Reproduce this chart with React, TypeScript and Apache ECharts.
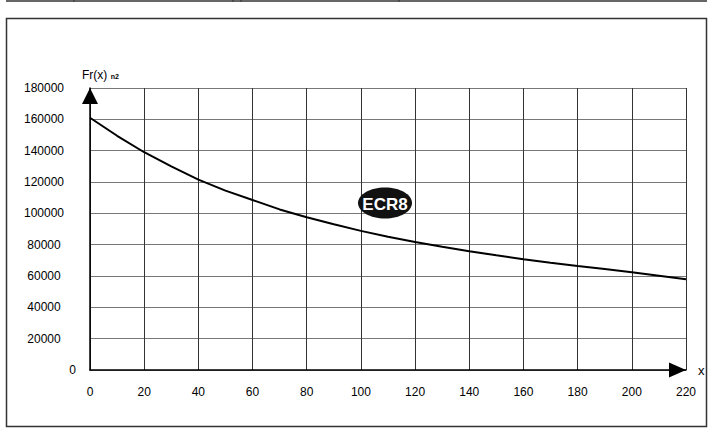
import React, { useEffect, useRef } from "react";
import * as echarts from "echarts";

const xValues = [0, 10, 20, 30, 40, 50, 60, 70, 80, 90, 100, 110, 120, 130, 140, 150, 160, 170, 180, 190, 200, 210, 220];
const frValues = [161000, 149500, 139000, 130000, 121500, 114500, 108500, 102500, 97500, 93000, 88800, 85000, 81700, 78700, 75800, 73200, 70700, 68500, 66400, 64400, 62400, 60200, 58000];
const xTicks = { min: 0, max: 220, interval: 20 };
const yTicks = { min: 0, max: 180000, interval: 20000 };
const yName = "Fr(x)";
const ySub = "n2";
const xName = "x";
const badge = "ECR8";

const FONT = "'Liberation Sans', Arial, sans-serif";

export default function App() {
  const ref = useRef<HTMLDivElement>(null);
  useEffect(() => {
    if (!ref.current) return;
    const chart = echarts.init(ref.current, null, { renderer: "svg" });
    const data = xValues.map((x, i) => [x, frValues[i]]);
    chart.setOption({
      animation: false,
      backgroundColor: "#fff",
      grid: { left: 90, right: 25, top: 88, bottom: 58 },
      xAxis: {
        type: "value",
        min: xTicks.min,
        max: xTicks.max,
        interval: xTicks.interval,
        name: xName,
        nameLocation: "end",
        nameGap: 12,
        nameTextStyle: { color: "#000", fontFamily: FONT, fontSize: 13, padding: [0, 0, 10, 0] },
        axisLine: {
          show: true,
          lineStyle: { color: "#000", width: 1.5 },
          symbol: ["none", "triangle"],
          symbolSize: [15, 17],
          symbolOffset: [0, -8.5],
        },
        axisTick: { show: false },
        axisLabel: { color: "#000", fontFamily: FONT, fontSize: 12, margin: 16 },
        splitLine: { show: true, lineStyle: { color: "#333", width: 1 } },
      },
      yAxis: {
        type: "value",
        min: yTicks.min,
        max: yTicks.max,
        interval: yTicks.interval,
        axisLine: {
          show: true,
          lineStyle: { color: "#000", width: 1.5 },
          symbol: ["none", "triangle"],
          symbolSize: [16, 16],
          symbolOffset: [0, -8],
        },
        axisTick: { show: false },
        axisLabel: {
          color: "#000",
          fontFamily: FONT,
          fontSize: 12,
          margin: 46,
          align: "center",
          formatter: (v: number) => (v === 0 ? "{z|0}" : String(v)),
          rich: { z: { width: 64, align: "right", fontFamily: FONT, fontSize: 12, color: "#000" } },
        },
        splitLine: { show: true, lineStyle: { color: "#777", width: 1 } },
      },
      series: [
        {
          type: "line",
          data,
          showSymbol: false,
          symbol: "none",
          smooth: false,
          lineStyle: { color: "#000", width: 2 },
        },
      ],
      graphic: [
        { type: "line", shape: { x1: 6, y1: 1, x2: 707, y2: 1 }, style: { stroke: "#333", lineWidth: 1.5 } },
        { type: "line", shape: { x1: 74, y1: 0, x2: 74, y2: 2 }, style: { stroke: "#333", lineWidth: 1 } },
        { type: "line", shape: { x1: 233, y1: 0, x2: 233, y2: 2 }, style: { stroke: "#333", lineWidth: 1 } },
        { type: "line", shape: { x1: 241, y1: 0, x2: 241, y2: 2 }, style: { stroke: "#333", lineWidth: 1 } },
        { type: "line", shape: { x1: 399, y1: 0, x2: 399, y2: 2 }, style: { stroke: "#333", lineWidth: 1 } },
        {
          type: "rect",
          shape: { x: 6.5, y: 18.5, width: 700, height: 408 },
          style: { fill: "none", stroke: "#333", lineWidth: 1.5 },
          silent: true,
        },
        {
          type: "text",
          x: 82,
          y: 75,
          style: {
            text: `{a|${yName}} {b|${ySub}}`,
            verticalAlign: "middle",
            rich: {
              a: { fontFamily: FONT, fontSize: 12, fill: "#000", verticalAlign: "middle" },
              b: { fontFamily: FONT, fontSize: 7, fontWeight: "bold", fill: "#000", verticalAlign: "middle", padding: [3, 0, 0, 0] },
            },
          },
        },
        {
          type: "ellipse",
          shape: { cx: 385, cy: 203, rx: 27, ry: 15.5 },
          style: { fill: "#111" },
          z: 100,
        },
        {
          type: "text",
          x: 385,
          y: 204,
          z: 101,
          style: {
            text: badge,
            fill: "#fff",
            fontFamily: FONT,
            fontWeight: "bold",
            fontSize: 17,
            align: "center",
            verticalAlign: "middle",
          },
        },
      ],
    });
    return () => chart.dispose();
  }, []);
  return <div ref={ref} style={{ position: "fixed", left: 0, top: 0, width: 711, height: 428 }} />;
}
